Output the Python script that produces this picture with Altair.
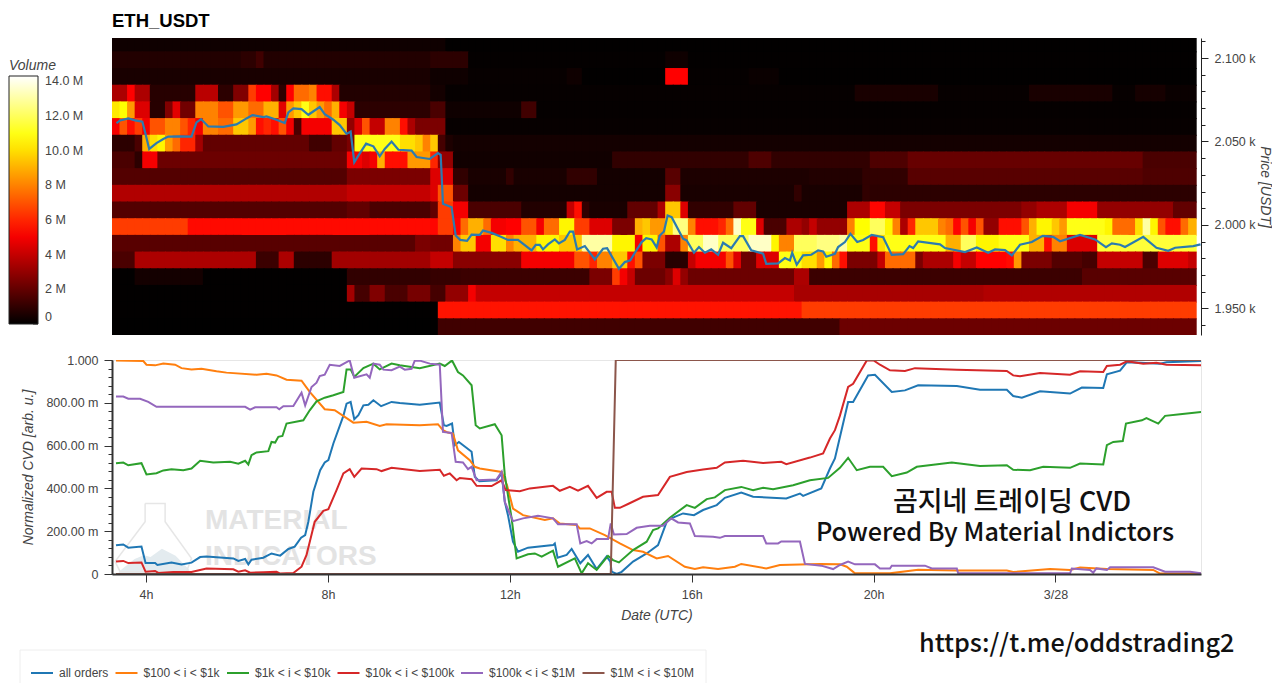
import altair as alt
import pandas as pd

alt.data_transformers.disable_max_rows()

FONT = 'Liberation Sans'

# heatmap columns are 10 minutes wide, first one starts at 3.25h
first_col_hour = 3.25
col_hours = 1 / 6
row_usdt = 10

# volume per price bin (lower edge, USDT), in millions, one value per column
row_2104 = [0.3]*44 + [0.05]*99
row_2094 = [0.7]*17 + [0.9]*2 + [1.3] + [0.7]*22 + [0.9]*5 + [0.08]*26 + [0.3]*3 + [0.06]*67
row_2084 = [0.5]*42 + [0.3]*5 + [0.15]*13 + [0.3]*2 + [0.05]*11 + [5.2]*3 + [0.1]*8 + [0.2]*4 + [0.05]*55
row_2074 = ([3.5]*2 + [5.2] + [3.5]*2 + [0.8]*6 + [3.8]*3 + [0.9]*2 + [2.6]*2 + [6.5] + [5.2]*2 + [3.3] + [0.9]
            + [5.2] + [7.5]*2 + [8] + [5.5]*2 + [3.5] + [0.7]*12 + [0.4]*2 + [0.12]*54 + [0.5]*11 + [0.15]*12
            + [0.5]*11 + [0.15]*3 + [0.45]*4 + [0.2]*4)
row_2064 = ([10.2, 10.7, 8.5] + [4.5]*2 + [0.8]*2 + [2.6, 4.6] + [2.3]*2 + [8]*3 + [7]*2 + [8.5]*2 + [7.5]*2 + [9]*2
            + [4.6, 8.5, 9.5, 11, 9.5, 8.5, 7.5, 9, 5, 4] + [0.9]*10 + [1.5]*2 + [0.3]*10 + [1.3]*2 + [0.1]*87)
row_2054 = ([5, 7, 5.5, 6.5, 5] + [7]*2 + [8]*2 + [7, 6, 5] + [8]*2 + [7.5]*2 + [9.5]*2 + [8.5, 5.5, 6, 5.5, 7, 5, 1.5]
            + [5]*4 + [9.5]*2 + [3, 4.5, 7] + [4]*2 + [8]*2 + [5.5, 3.5] + [2.5]*4 + [0.15]*99)
row_2044 = ([0.9]*3 + [1.5, 9, 10, 10.5, 8.5, 7.5] + [6]*2 + [3.3] + [2]*14 + [1.3]*3 + [2]*2 + [2.5] + [11]*6 + [10]*2
            + [9.5, 8, 9.5, 1.4, 0.6] + [0.4]*98)
row_2034 = ([1.5]*3 + [0.9] + [5]*2 + [2.2]*25 + [5]*2 + [4.5, 5, 9] + [5.5]*3 + [8.5]*3 + [6] + [3]*2 + [0.35]*21
            + [1]*18 + [1.6]*3 + [1]*13 + [1.6]*5 + [2.1]*31 + [1.5]*7)
row_2024 = ([1.7]*31 + [2.5]*11 + [4.5]*3 + [1]*2 + [0.5]*5 + [1] + [0.5]*7 + [1]*4 + [0.4]*9 + [1.8]*2 + [0.6]*17
            + [0.7]*7 + [1]*6 + [1.8]*31 + [1.6]*7)
row_2014 = ([3.6]*31 + [4]*11 + [4.5] + [7]*2 + [2.2]*2 + [0.4]*26 + [2.8]*2 + [0.5]*15 + [1] + [0.5]*8 + [1] + [0.9]*43)
row_2004 = ([1.7]*31 + [2]*3 + [1.5]*8 + [2] + [6.5]*2 + [5]*2 + [1.5]*7 + [0.7]*6 + [4, 5.5, 1] + [0.5]*5 + [2]*4 + [3.5]
            + [9.5]*2 + [4.5] + [1]*6 + [2]*3 + [0.5]*12 + [3.5]*3 + [5.3]*2 + [4]*2 + [2.5]*16 + [3]*2 + [3.5]*4 + [5]*4
            + [3]*10 + [2]*3)
row_1994 = ([6.5]*10 + [5.4]*32 + [5.3] + [6.5]*2 + [5.2, 7.5] + [9]*2 + [7.5] + [5]*2 + [5.2]*2 + [7]*2 + [5] + [7.5]*2
            + [10.5]*2 + [6.5]*2 + [4.5]*3 + [2.5]*3 + [9, 9.5] + [8.5]*2 + [10] + [12.5]*2 + [8] + [5.5]*3 + [6, 7.5, 13.5]
            + [11]*2 + [4.5] + [1.5]*3 + [3.5]*2 + [3, 4] + [3]*4 + [8] + [10.7]*2 + [12]*2 + [10.5, 8, 3.5, 6] + [9.5]*3
            + [8, 7.5, 5.3, 7, 5, 7] + [3]*2 + [5.5]*3 + [7, 9] + [10.5]*2 + [9.5, 8.5] + [11]*5 + [10.5] + [7.5]*3
            + [10, 13, 10.5, 7] + [5.5]*2 + [7.5, 9])
row_1984 = ([1.8]*40 + [2.5]*2 + [2.3]*3 + [8] + [9.5]*2 + [5]*2 + [10]*2 + [8] + [9]*3 + [10.5]*3 + [9.5]*3 + [13]*4
            + [10.5]*3 + [5] + [10.5]*2 + [7] + [3.5]*2 + [8] + [12]*2 + [13.5]*2 + [12]*4 + [13.5]*3 + [10.5] + [8]*2
            + [12]*3 + [12.5]*3 + [13] + [11]*3 + [5.5, 10] + [11]*8 + [9]*2 + [12]*2 + [10.5]*3 + [11]*4 + [9]*2 + [5.5]
            + [8]*2 + [4.5]*4 + [11.5]*13)
row_1974 = ([1.5]*3 + [3.5]*16 + [1.2]*3 + [3.5]*2 + [0.9]*5 + [3.3]*13 + [4]*3 + [2.8]*9 + [5]*7 + [7]*2 + [6] + [8]*2
            + [9.5]*2 + [5.5, 7] + [2.5]*3 + [0.8]*3 + [4] + [5]*4 + [7, 4.5] + [2.2]*2 + [4.5]*3 + [11]*3 + [10]*2
            + [8.5, 10.5, 7.5, 5.5] + [2.5]*4 + [4] + [7.5]*4 + [2.5] + [3.5]*4 + [5] + [4]*2 + [5.2]*4 + [5.4, 8.5]
            + [2.5]*4 + [1.7]*4 + [1.4]*2 + [4]*6 + [1.5]*2 + [4.5]*4 + [4])
row_1964 = ([0.05]*3 + [0.4]*9 + [0.05]*19 + [1]*11 + [1.1]*4 + [1.2]*17 + [2.5]*3 + [6.5, 5, 4] + [2.2]*4 + [2.8, 4.5, 3]
            + [2.2]*14 + [3.5]*2 + [1.2]*36 + [1.8]*15)
row_1954 = ([0.05]*31 + [3.3] + [1.4]*2 + [2.6]*2 + [1.5]*3 + [2.4]*3 + [1.4]*2 + [3]*3 + [5] + [4]*42 + [3.4]*25 + [3.6]*28)
row_1944 = [0.05]*43 + [5.6]*48 + [6.5]*52
row_1934 = [0.03]*43 + [1.3]*53 + [2.2]*47

heat_rows = {
    2104: row_2104, 2094: row_2094, 2084: row_2084, 2074: row_2074, 2064: row_2064, 2054: row_2054,
    2044: row_2044, 2034: row_2034, 2024: row_2024, 2014: row_2014, 2004: row_2004, 1994: row_1994,
    1984: row_1984, 1974: row_1974, 1964: row_1964, 1954: row_1954, 1944: row_1944, 1934: row_1934,
}

# price line: (hour, USDT)
price = [(3.35, 2061), (3.43, 2062.6), (3.61, 2063.8), (3.76, 2062.6), (3.92, 2061.8), (3.98, 2055.5), (4.07, 2045.5),
         (4.23, 2049), (4.38, 2051.5), (4.49, 2052.9), (4.75, 2053), (5.0, 2052.9), (5.11, 2061.4), (5.21, 2063.4),
         (5.37, 2059), (5.7, 2058.7), (5.99, 2060.2), (6.21, 2063.8), (6.34, 2065.8), (6.58, 2064.6), (6.65, 2065),
         (6.87, 2063), (7.05, 2061), (7.13, 2067.4), (7.24, 2069.8), (7.42, 2069.4), (7.57, 2066), (7.82, 2070.6),
         (7.93, 2066.4), (8.12, 2063), (8.26, 2059.8), (8.41, 2054.5), (8.5, 2055.9), (8.58, 2037.5), (8.67, 2041.5),
         (8.84, 2048.7), (9.0, 2047.1), (9.14, 2041.1), (9.25, 2045.5), (9.4, 2049.9), (9.55, 2045), (9.84, 2044.5),
         (9.95, 2040.7), (10.24, 2039.5), (10.42, 2043), (10.48, 2041.9), (10.53, 2012.6), (10.72, 2010.6),
         (10.81, 1993.6), (10.91, 1991), (11.06, 1990.4), (11.16, 1994.2), (11.34, 1994), (11.41, 1996.6),
         (11.6, 1995.2), (11.78, 1993.2), (11.96, 1991), (12.18, 1991), (12.48, 1984.7), (12.57, 1988), (12.66, 1988),
         (12.73, 1985.3), (12.84, 1988.3), (12.99, 1991.3), (13.08, 1988.9), (13.21, 1991), (13.32, 1996), (13.39, 1996),
         (13.48, 1985.3), (13.65, 1987.3), (13.87, 1979.3), (14.05, 1985.7), (14.14, 1986), (14.4, 1973.7),
         (14.53, 1977.7), (14.65, 1978.7), (14.75, 1983.3), (14.9, 1989.7), (15.0, 1992), (15.12, 1991.3), (15.23, 1986.5),
         (15.3, 1993.6), (15.39, 1996), (15.47, 2005.6), (15.56, 2004.6), (15.81, 1991.7), (15.89, 1990.7), (16.05, 1983.3),
         (16.16, 1986.7), (16.29, 1983.3), (16.43, 1985.3), (16.58, 1982.1), (16.69, 1989.3), (16.87, 1986), (17.06, 1993.2),
         (17.13, 1993.2), (17.31, 1984.7), (17.57, 1982.7), (17.64, 1976.7), (17.9, 1976.9), (18.05, 1980.1),
         (18.16, 1978.7), (18.21, 1983.3), (18.31, 1976.1), (18.45, 1981.7), (18.63, 1982.1), (18.78, 1984.7),
         (18.89, 1984.1), (18.96, 1980.9), (19.15, 1982.7), (19.22, 1986.7), (19.37, 1989.7), (19.49, 1994.6),
         (19.64, 1989.7), (19.77, 1990.9), (19.96, 1994), (20.21, 1992.6), (20.4, 1982), (20.65, 1982.5), (20.79, 1987.3),
         (20.87, 1986.1), (20.98, 1990.1), (21.46, 1988.3), (21.57, 1986.1), (22.01, 1983.7), (22.27, 1986.5),
         (22.52, 1983.3), (22.67, 1985.3), (22.89, 1984.9), (23.04, 1981.7), (23.22, 1988.1), (23.48, 1989.7),
         (23.72, 1993.4), (23.95, 1992.8), (24.1, 1990.2), (24.54, 1994), (24.87, 1991.3), (25.11, 1986.7), (25.24, 1988.9),
         (25.42, 1988.1), (25.53, 1986.7), (25.93, 1992.8), (26.22, 1986.3), (26.48, 1984.5), (26.63, 1986.3),
         (27.03, 1987.3), (27.19, 1988.3)]

# normalized CVD: (hour, milli-units)
cvd_all = [(3.34, 134), (3.5, 138), (3.61, 123), (3.9, 128), (3.99, 51), (4.2, 51), (4.25, 42), (4.56, 54), (4.78, 45),
           (5.0, 53), (5.19, 79), (5.33, 82), (5.92, 73), (6.03, 61), (6.18, 70), (6.25, 45), (6.32, 67), (6.58, 76),
           (6.76, 96), (6.95, 86), (7.13, 117), (7.27, 128), (7.41, 170), (7.5, 182), (7.57, 244), (7.68, 384), (7.83, 485),
           (7.93, 521), (8.01, 532), (8.12, 610), (8.34, 739), (8.41, 796), (8.5, 804), (8.58, 723), (8.67, 742), (8.78, 788),
           (8.89, 791), (9.0, 812), (9.17, 784), (9.4, 804), (9.58, 799), (10.02, 791), (10.46, 801), (10.55, 695),
           (10.61, 692), (10.73, 703), (10.79, 602), (10.88, 617), (11.16, 571), (11.23, 454), (11.33, 434), (11.71, 438),
           (11.82, 470), (11.89, 337), (11.96, 275), (12.07, 151), (12.18, 104), (12.4, 123), (12.95, 135), (12.99, 143),
           (13.05, 76), (13.25, 89), (13.36, 117), (13.55, 50), (13.72, 89), (13.91, 23), (14.13, 82), (14.21, 58),
           (14.24, 11), (14.35, 0), (14.46, 10), (14.71, 58), (15.01, 96), (15.26, 135), (15.45, 244), (15.55, 260),
           (15.81, 283), (16.05, 275), (16.25, 299), (16.55, 322), (16.73, 356), (17.09, 381), (17.35, 361), (18.08, 353),
           (18.38, 376), (18.45, 365), (18.85, 400), (19.04, 493), (19.15, 540), (19.26, 640), (19.44, 804), (19.55, 804),
           (19.88, 928), (20.03, 931), (20.4, 851), (20.69, 858), (20.98, 882), (21.83, 879), (22.34, 861), (22.93, 861),
           (23.07, 832), (23.26, 824), (23.66, 854), (24.32, 843), (24.58, 871), (25.05, 869), (25.13, 933), (25.42, 950),
           (25.57, 990), (26.3, 983), (26.44, 990), (27.21, 995)]
cvd_100_1k = [(3.34, 998), (3.94, 995), (4.01, 978), (4.2, 975), (4.38, 984), (4.64, 978), (4.78, 962), (5.0, 956), (5.22, 959),
              (5.55, 947), (5.77, 941), (6.43, 931), (6.65, 936), (6.87, 928), (7.09, 908), (7.42, 903), (7.6, 851), (7.93, 770),
              (8.15, 765), (8.56, 707), (8.85, 711), (9.14, 692), (9.29, 700), (10.02, 695), (10.42, 700), (10.53, 672),
              (10.64, 661), (10.75, 656), (10.86, 578), (11.12, 532), (11.23, 501), (11.34, 493), (11.82, 477), (11.94, 415),
              (12.07, 306), (12.29, 275), (12.77, 252), (12.95, 260), (13.1, 236), (13.47, 229), (13.54, 213), (13.76, 213),
              (14.09, 182), (14.42, 143), (14.71, 112), (14.93, 104), (15.23, 73), (15.48, 84), (15.85, 34), (16.07, 23),
              (16.25, 31), (16.58, 23), (16.95, 34), (17.09, 47), (17.64, 26), (17.94, 42), (18.82, 47), (19.26, 45),
              (19.41, 34), (19.59, 3), (20.36, 3), (20.98, 20), (21.83, 16), (22.93, 16), (23.07, 9), (23.88, 23), (24.32, 19),
              (24.54, 30), (25.13, 23), (26.15, 19), (26.3, 2), (27.21, 2)]
cvd_1k_10k = [(3.34, 518), (3.5, 521), (3.61, 508), (3.9, 518), (4.01, 465), (4.23, 471), (4.38, 484), (4.56, 490), (4.82, 485),
              (5.0, 493), (5.19, 529), (5.48, 521), (5.85, 524), (6.03, 515), (6.18, 529), (6.25, 512), (6.32, 555), (6.43, 568),
              (6.69, 574), (6.76, 617), (6.84, 614), (6.91, 641), (7.0, 645), (7.09, 703), (7.46, 718), (7.6, 765), (7.75, 807),
              (7.93, 824), (8.12, 835), (8.34, 851), (8.41, 956), (8.5, 956), (8.58, 921), (8.78, 962), (9.0, 983), (9.14, 956),
              (9.4, 983), (9.58, 975), (10.02, 962), (10.46, 983), (10.57, 972), (10.73, 998), (10.86, 944), (10.97, 928),
              (11.16, 882), (11.25, 695), (11.34, 680), (11.67, 700), (11.82, 648), (11.89, 462), (12.04, 260), (12.15, 73),
              (12.4, 92), (12.55, 96), (12.7, 81), (12.95, 109), (13.06, 34), (13.43, 73), (13.58, 3), (13.72, 50), (13.91, 19),
              (14.16, 85), (14.27, 65), (14.4, 54), (14.71, 112), (15.01, 151), (15.15, 205), (15.26, 213), (15.52, 263),
              (15.89, 322), (16.07, 309), (16.33, 350), (16.51, 358), (16.73, 392), (17.09, 407), (17.35, 392), (17.57, 403),
              (17.79, 396), (18.23, 415), (18.6, 438), (19.0, 449), (19.26, 496), (19.44, 543), (19.63, 485), (19.92, 501),
              (20.21, 501), (20.4, 457), (20.73, 474), (20.95, 501), (21.72, 521), (22.34, 505), (22.93, 508), (23.07, 487),
              (23.44, 485), (23.73, 501), (24.32, 496), (24.54, 516), (25.05, 512), (25.13, 602), (25.27, 617), (25.48, 621),
              (25.55, 703), (25.9, 718), (26.0, 729), (26.26, 703), (26.41, 739), (26.74, 746), (27.21, 757)]
cvd_10k_100k = [(3.34, 58), (3.5, 61), (3.61, 51), (3.9, 54), (3.99, 11), (4.2, 14), (4.27, 5), (4.6, 9), (5.0, 9), (5.33, 26),
                (5.92, 22), (6.03, 11), (6.18, 17), (6.29, 6), (6.58, 8), (6.87, 11), (6.95, 2), (7.24, 5), (7.42, 34), (7.53, 89),
                (7.71, 244), (7.9, 295), (8.01, 303), (8.19, 392), (8.34, 470), (8.48, 490), (8.58, 454), (8.74, 493), (9.07, 490),
                (9.18, 481), (9.4, 496), (10.02, 481), (10.46, 487), (10.55, 459), (10.68, 470), (10.83, 438), (10.9, 449),
                (11.16, 443), (11.27, 412), (11.6, 411), (11.82, 438), (11.91, 392), (12.22, 387), (12.44, 400), (12.95, 412),
                (13.1, 389), (13.32, 407), (13.5, 389), (13.72, 412), (13.91, 356), (14.13, 384), (14.24, 384), (14.31, 309),
                (14.42, 309), (14.6, 327), (14.93, 361), (15.26, 369), (15.52, 454), (15.89, 477), (16.25, 488), (16.55, 496),
                (16.73, 521), (17.13, 529), (17.57, 519), (17.97, 524), (18.08, 513), (18.6, 544), (18.89, 563), (19.04, 633),
                (19.15, 672), (19.26, 740), (19.44, 874), (19.55, 889), (19.85, 998), (20.0, 998), (20.14, 978), (20.36, 952),
                (20.69, 949), (20.91, 962), (21.83, 955), (22.93, 949), (23.07, 928), (23.22, 924), (23.66, 939), (24.32, 931),
                (24.54, 947), (25.05, 944), (25.13, 972), (25.42, 978), (25.57, 994), (25.93, 983), (26.22, 987), (26.44, 978),
                (27.21, 975)]
cvd_100k_1m = [(3.34, 830), (3.5, 829), (3.61, 819), (3.87, 819), (4.05, 804), (4.23, 781), (6.18, 781), (6.29, 768), (6.4, 779),
               (6.87, 779), (6.93, 770), (7.02, 784), (7.24, 785), (7.42, 847), (7.5, 788), (7.64, 874), (7.75, 894), (7.82, 925),
               (7.93, 931), (8.04, 978), (8.26, 972), (8.48, 998), (8.58, 917), (8.85, 933), (8.92, 917), (9.0, 983), (9.14, 978),
               (9.22, 955), (9.4, 952), (9.58, 969), (9.69, 955), (9.84, 959), (9.91, 997), (10.02, 997), (10.24, 983), (10.46, 978),
               (10.53, 664), (10.72, 659), (10.81, 524), (10.97, 521), (11.08, 490), (11.16, 501), (11.27, 438), (11.71, 442),
               (11.82, 477), (11.89, 337), (12.07, 247), (12.29, 260), (12.62, 272), (12.95, 260), (13.06, 232), (13.47, 232),
               (13.55, 143), (13.69, 154), (13.8, 143), (13.91, 163), (14.16, 163), (14.22, 236), (14.29, 185), (14.57, 187),
               (14.79, 216), (15.08, 225), (15.37, 225), (15.55, 260), (15.7, 241), (15.96, 236), (16.07, 177), (16.47, 174),
               (16.62, 169), (16.73, 177), (17.57, 177), (17.64, 143), (17.9, 143), (17.97, 152), (18.38, 152), (18.49, 47),
               (18.85, 39), (19.11, 23), (19.26, 42), (19.44, 58), (19.59, 45), (20.03, 45), (20.14, 26), (20.36, 26), (20.4, 39),
               (21.13, 39), (21.28, 26), (21.83, 26), (21.86, 3), (24.32, 3), (24.36, 26), (24.76, 19), (24.83, 6), (24.9, 26),
               (25.13, 19), (25.2, 31), (26.15, 31), (26.41, 11), (26.96, 11), (27.21, 3)]
cvd_1m_10m = [(3.34, 0), (14.22, 0), (14.33, 1000), (27.21, 1000)]

series_names = ['all orders', '$100 < i < $1k', '$1k < i < $10k', '$10k < i < $100k', '$100k < i < $1M', '$1M < i < $10M']
series_values = [cvd_all, cvd_100_1k, cvd_1k_10k, cvd_10k_100k, cvd_100k_1m, cvd_1m_10m]
series_colors = ['#1f77b4', '#ff7f0e', '#2ca02c', '#d62728', '#9467bd', '#8c564b']

# axis ticks
hour_ticks = [4, 8, 12, 16, 20, 24]
price_ticks = [1950, 2000, 2050, 2100]
price_minor = [1940, 1950, 1960, 1970, 1980, 1990, 2000, 2010, 2020, 2030, 2040, 2050, 2060, 2070, 2080, 2090, 2100, 2110]
cvd_ticks = [0, 200, 400, 600, 800, 1000]
cvd_minor = [0, 40, 80, 120, 160, 200, 240, 280, 320, 360, 400, 440, 480, 520, 560, 600, 640, 680, 720, 760, 800, 840, 880, 920, 960, 1000]
volume_ticks = [0, 2, 4, 6, 8, 10, 12, 14]

# watermark flask outline and the hill inside it
flask_hours = [3.98, 4.42, 4.42, 5.0, 4.89, 3.43, 3.32, 3.98, 3.98]
flask_values = [330, 330, 244, 73, 11, 11, 58, 244, 330]
hill_hours = [3.4, 3.75, 3.95, 4.1, 4.35, 4.65, 4.95]
hill_values = [10, 70, 88, 80, 118, 85, 20]

cells = []
for low, values in heat_rows.items():
    for k, v in enumerate(values):
        # cells bleed about 1px under the next one drawn, so no hairline shows between them
        cells.append({'h0': first_col_hour + k * col_hours, 'h1': first_col_hour + (k + 1) * col_hours + 0.022,
                      'p0': low - 0.6, 'p1': low + row_usdt, 'volume': v})
heat_df = pd.DataFrame(cells)
price_df = pd.DataFrame(price, columns=['h', 'price'])

lines = []
for name, values in zip(series_names, series_values):
    part = pd.DataFrame(values, columns=['h', 'cvd'])
    part['series'] = name
    lines.append(part)
lines_df = pd.concat(lines)

x_scale = alt.Scale(domain=[3.252, 27.2], nice=False, zero=False)
price_scale = alt.Scale(domain=[1934, 2112], nice=False, zero=False)
cvd_scale = alt.Scale(domain=[0, 1000], nice=False)
hot = alt.Scale(domain=[0, 5.2, 10.7, 14.3], range=['#000000', '#ff0000', '#ffff00', '#ffffff'], interpolate='rgb')

WIDTH = 1089

heat = alt.Chart(heat_df).mark_rect(clip=True).encode(
    x=alt.X('h0:Q', scale=x_scale, axis=None),
    x2='h1:Q',
    y=alt.Y('p0:Q', scale=price_scale, axis=alt.Axis(
        orient='right', values=price_ticks, labelExpr="format(datum.value / 1000, '.3f') + ' k'",
        title='Price [USDT]', titleFont=FONT, titleFontStyle='italic', titleFontWeight='normal', titleFontSize=14,
        titleColor='#444444', titlePadding=2, labelFont=FONT, labelFontSize=12.5, labelColor='#444444', labelPadding=6,
        tickSize=7, tickColor='#222222', domainColor='#222222', grid=False)),
    y2='p1:Q',
    color=alt.Color('volume:Q', scale=hot, legend=alt.Legend(
        orient='none', legendX=-103, legendY=21, title='Volume', titleFont=FONT, titleFontStyle='italic',
        titleFontWeight='normal', titleFontSize=14, titleColor='#444444', titlePadding=3,
        gradientLength=248, gradientThickness=29, gradientStrokeColor='#222222', gradientStrokeWidth=1,
        values=volume_ticks, labelExpr="datum.value == 0 ? '0' : datum.value >= 10 ? format(datum.value, '.1f') + ' M' : datum.value + ' M'",
        labelFont=FONT, labelFontSize=12.5, labelColor='#444444', labelOffset=7, labelOverlap=False)),
)

price_line = alt.Chart(price_df).mark_line(clip=True, color='#2b7bb0', strokeWidth=2.2).encode(
    x=alt.X('h:Q', scale=x_scale, axis=None),
    y=alt.Y('price:Q', scale=price_scale, axis=None),
)

price_minor_axis = alt.Chart(price_df).mark_line(opacity=0).encode(
    x=alt.X('h:Q', scale=x_scale, axis=None),
    y=alt.Y('price:Q', scale=price_scale, axis=alt.Axis(
        orient='right', values=price_minor, labels=False, title=None, tickSize=4, tickColor='#222222', domain=False, grid=False)),
)

# little ticks on the inner edge of the colour bar, its y scale mapped onto the bar
bar_ticks = alt.Chart(pd.DataFrame({'v': volume_ticks})).mark_rule(color='#333333', strokeWidth=1).encode(
    x=alt.value(-79), x2=alt.value(-74),
    y=alt.Y('v:Q', scale=alt.Scale(domain=[0, 14.3], range=[286, 38], nice=False), axis=None),
)

top = alt.layer(heat, price_line, price_minor_axis, bar_ticks).resolve_scale(y='independent').resolve_axis(y='independent').properties(
    width=WIDTH, height=297,
    title=alt.TitleParams('ETH_USDT', anchor='start', frame='group', font=FONT, fontSize=18.5, fontWeight='bold', color='#000000', offset=8),
    view=alt.ViewBackground(stroke='transparent'),
)

flask = alt.Chart(pd.DataFrame({'h': flask_hours, 'v': flask_values, 'i': list(range(len(flask_hours)))})).mark_line(
    color='#e6e6e6', strokeWidth=1.5, clip=False).encode(
    x=alt.X('h:Q', scale=x_scale, axis=None),
    y=alt.Y('v:Q', scale=cvd_scale, axis=None),
    order='i:Q',
)
hill = alt.Chart(pd.DataFrame({'h': hill_hours, 'v': hill_values})).mark_area(color='#e3ebef').encode(
    x=alt.X('h:Q', scale=x_scale, axis=None),
    y=alt.Y('v:Q', scale=cvd_scale, axis=None),
)
mark_word = alt.Chart(pd.DataFrame({'t': ['MATERIAL']})).mark_text(
    align='left', baseline='middle', font=FONT, fontWeight='bold', fontSize=28, color='#e3e3e3').encode(
    x=alt.value(93), y=alt.value(161), text='t:N')
ind_word = alt.Chart(pd.DataFrame({'t': ['INDICATORS']})).mark_text(
    align='left', baseline='middle', font=FONT, fontWeight='bold', fontSize=28, color='#e3e3e3').encode(
    x=alt.value(93), y=alt.value(197), text='t:N')

cvd_lines = alt.Chart(lines_df).mark_line(clip=True, strokeWidth=2).encode(
    x=alt.X('h:Q', scale=x_scale, axis=alt.Axis(
        values=hour_ticks, labelExpr="datum.value == 24 ? '3/28' : datum.value + 'h'", zindex=1,
        title='Date (UTC)', titleFont=FONT, titleFontStyle='italic', titleFontWeight='normal', titleFontSize=14,
        titleColor='#444444', titlePadding=8, labelFont=FONT, labelFontSize=12.5, labelColor='#444444', labelPadding=6,
        tickSize=8, tickColor='#333333', domainColor='#333333', domainWidth=2, gridColor='#e6e6e6')),
    y=alt.Y('cvd:Q', scale=cvd_scale, axis=alt.Axis(
        values=cvd_ticks, labelExpr="datum.value == 1000 ? '1.000' : datum.value == 0 ? '0' : format(datum.value, '.2f') + ' m'",
        title='Normalized CVD [arb. u.]', titleFont=FONT, titleFontStyle='italic', titleFontWeight='normal', titleFontSize=14,
        titleColor='#444444', titlePadding=10, labelFont=FONT, labelFontSize=12.5, labelColor='#444444', labelPadding=6,
        tickSize=8, tickColor='#333333', domainColor='#333333', domainWidth=2, gridColor='#e6e6e6')),
    color=alt.Color('series:N', scale=alt.Scale(domain=series_names, range=series_colors), sort=series_names, legend=alt.Legend(
        orient='none', legendX=-82, legendY=301, direction='horizontal', columns=6, title=None,
        symbolType='stroke', symbolSize=484, symbolStrokeWidth=2, labelFont=FONT, labelFontSize=12, labelColor='#444444',
        labelOffset=5, columnPadding=2.5, gridAlign='each', padding=0)),
)

cvd_minor_axis = alt.Chart(lines_df).mark_line(opacity=0).encode(
    x=alt.X('h:Q', scale=x_scale, axis=None),
    y=alt.Y('cvd:Q', scale=cvd_scale, axis=alt.Axis(
        orient='left', values=cvd_minor, labels=False, title=None, tickSize=4, tickColor='#333333', domain=False, grid=False)),
)

# faint frame of the legend, open at the bottom where the page ends
frame_data = pd.DataFrame({'n': [0]})
frame_top = alt.Chart(frame_data).mark_rule(color='#eeeeee').encode(x=alt.value(-92), x2=alt.value(594), y=alt.value(290))
frame_left = alt.Chart(frame_data).mark_rule(color='#eeeeee').encode(x=alt.value(-92), y=alt.value(290), y2=alt.value(323))
frame_right = alt.Chart(frame_data).mark_rule(color='#eeeeee').encode(x=alt.value(594), y=alt.value(290), y2=alt.value(323))

note_1 = alt.Chart(pd.DataFrame({'t': ['곰지네 트레이딩 CVD']})).mark_text(
    align='center', baseline='middle', font='Noto Sans CJK KR', fontSize=27, fontWeight=500, color='#111111').encode(
    x=alt.value(900), y=alt.value(143), text='t:N')
note_2 = alt.Chart(pd.DataFrame({'t': ['Powered By Material Indictors']})).mark_text(
    align='center', baseline='middle', font='Noto Sans CJK KR', fontSize=25.2, fontWeight=500, color='#111111').encode(
    x=alt.value(883), y=alt.value(173), text='t:N')
note_3 = alt.Chart(pd.DataFrame({'t': ['https://t.me/oddstrading2']})).mark_text(
    align='left', baseline='middle', font='Noto Sans CJK KR', fontSize=25.2, fontWeight=500, color='#111111').encode(
    x=alt.value(807), y=alt.value(284), text='t:N')

bottom = alt.layer(hill, flask, mark_word, ind_word, cvd_lines, cvd_minor_axis, frame_top, frame_left, frame_right,
                   note_1, note_2, note_3).resolve_axis(
    x='independent', y='independent').properties(width=WIDTH, height=214, view=alt.ViewBackground(stroke='#e6e6e6'))

chart = alt.vconcat(top, bottom, spacing=17).resolve_scale(color='independent').properties(
    padding={'left': 0, 'right': 0, 'top': 3, 'bottom': 0},
).configure_view(strokeWidth=1)

for low, values in heat_rows.items():
    if len(values) != 143:
        print('row', low, 'has', len(values))

chart.save("out.html", embed_options={"renderer": "svg", "actions": False})
